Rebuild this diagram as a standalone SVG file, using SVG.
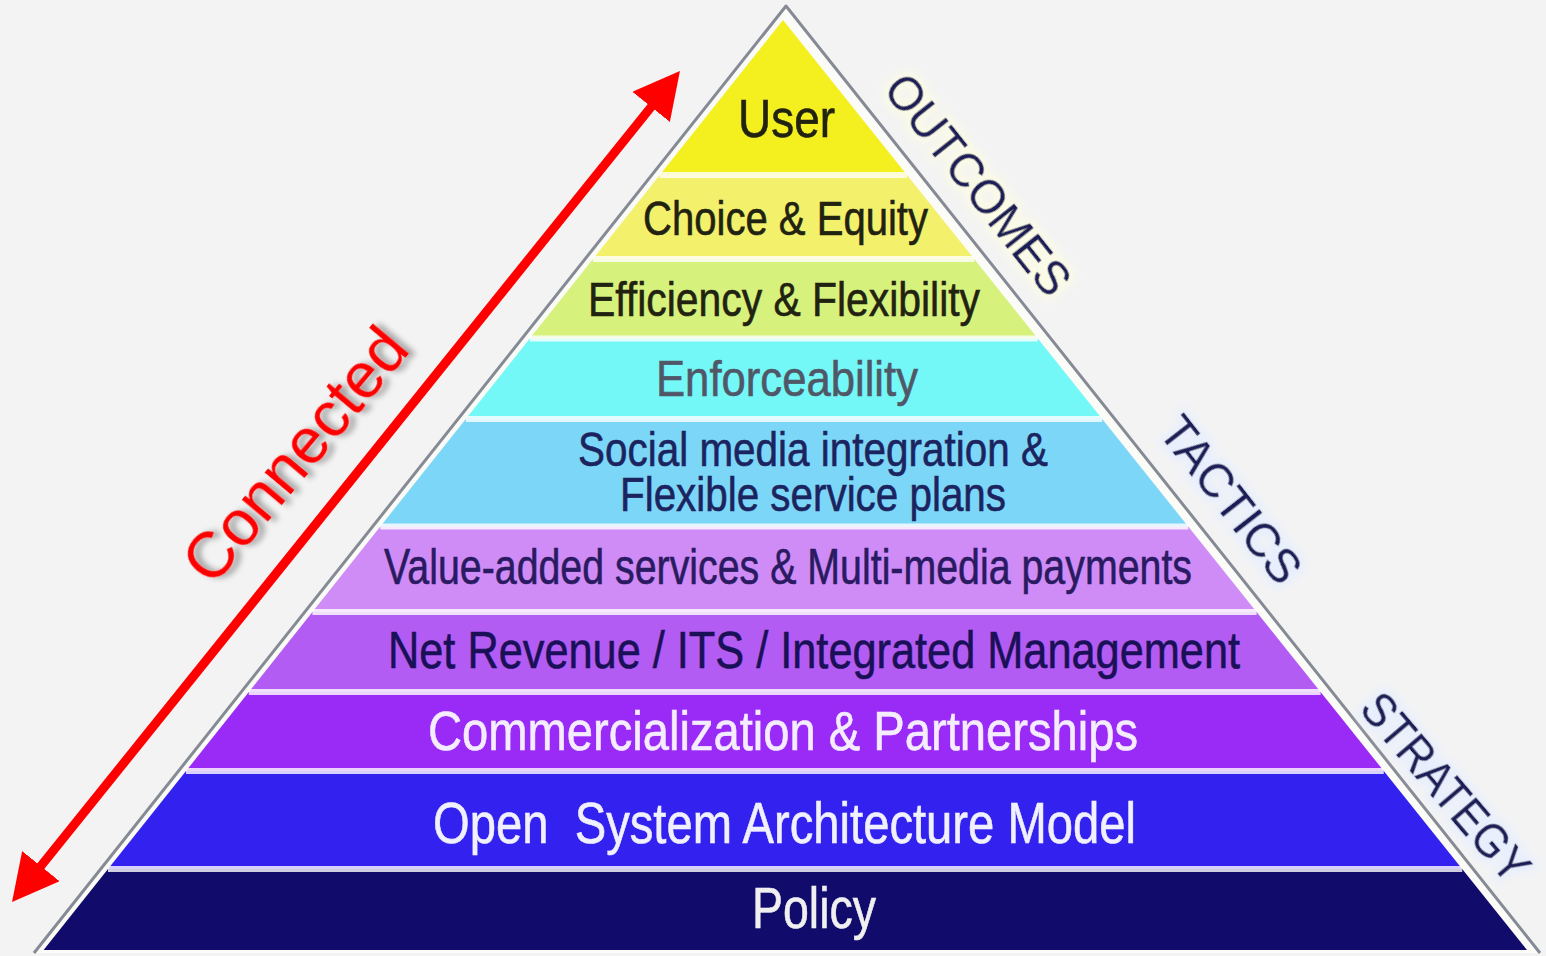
<svg xmlns="http://www.w3.org/2000/svg" width="1546" height="956" viewBox="0 0 1546 956">
  <defs>
    <style>
      .lbl { font-family: "Liberation Sans", Arial, sans-serif; text-anchor: middle; stroke-width: 0.6; }
      .side { font-family: "Liberation Sans", Arial, sans-serif; font-size: 48px; fill: #1a1d58; stroke: #1a1d58; stroke-width: 0.5; text-anchor: middle; }
      .gap { stroke: #ffffff; stroke-opacity: 0.8; stroke-width: 6; }
      .dark { fill: #222211; stroke: #222211; }
      .navy { fill: #1c2460; stroke: #1c2460; }
      .light { fill: #f4ecff; stroke: #f4ecff; }
    </style>
    <filter id="glow" x="-20%" y="-40%" width="140%" height="180%">
      <feMorphology in="SourceAlpha" operator="dilate" radius="4" result="d"/>
      <feGaussianBlur in="d" stdDeviation="4" result="b"/>
      <feFlood flood-color="#e6eeff" flood-opacity="0.95"/>
      <feComposite in2="b" operator="in" result="halo"/>
      <feMerge><feMergeNode in="halo"/><feMergeNode in="SourceGraphic"/></feMerge>
    </filter>
    <filter id="glowY" x="-20%" y="-40%" width="140%" height="180%">
      <feMorphology in="SourceAlpha" operator="dilate" radius="4" result="d"/>
      <feGaussianBlur in="d" stdDeviation="4" result="b"/>
      <feFlood flood-color="#fbfbe6" flood-opacity="0.95"/>
      <feComposite in2="b" operator="in" result="halo"/>
      <feMerge><feMergeNode in="halo"/><feMergeNode in="SourceGraphic"/></feMerge>
    </filter>
    <filter id="shadow" x="-20%" y="-20%" width="140%" height="140%">
      <feDropShadow dx="4" dy="5" stdDeviation="3" flood-color="#000000" flood-opacity="0.4"/>
    </filter>
    <marker id="head" viewBox="0 0 46 48" refX="6" refY="24" markerWidth="46" markerHeight="48" markerUnits="userSpaceOnUse" orient="auto-start-reverse">
      <path d="M0,0 L46,24 L0,48 Z" fill="#ff0000"/>
    </marker>
  </defs>

  <rect width="1546" height="956" fill="#f3f3f3"/>

  <!-- pyramid frame -->
  <g id="frame">
    <polygon points="786,6 34,953 1540,953" fill="#fbfbf7"/>
    <polyline points="34,953 786,6 1540,953" fill="none" stroke="#858a94" stroke-width="3" stroke-linejoin="round"/>
  </g>

  <g id="layer-user">
    <polygon points="783,20 907,175 659.8,175" fill="#f4ef1f"/>
    <text class="lbl dark" x="786.5" y="137" font-size="54" textLength="97" lengthAdjust="spacingAndGlyphs">User</text>
  </g>
  <g id="layer-choice">
    <polygon points="659.8,175 907,175 974.2,259 593,259" fill="#f3f06b"/>
    <text class="lbl dark" x="785.5" y="235" font-size="49" textLength="285" lengthAdjust="spacingAndGlyphs">Choice &amp; Equity</text>
  </g>
  <g id="layer-efficiency">
    <polygon points="593,259 974.2,259 1037.8,338.5 529.8,338.5" fill="#d6f17c"/>
    <text class="lbl dark" x="784" y="316" font-size="48" textLength="392" lengthAdjust="spacingAndGlyphs">Efficiency &amp; Flexibility</text>
  </g>
  <g id="layer-enforceability">
    <polygon points="529.8,338.5 1037.8,338.5 1102.2,419 465.8,419" fill="#74f7f7"/>
    <text class="lbl" fill="#505868" stroke="#505868" x="787" y="396" font-size="50" textLength="262" lengthAdjust="spacingAndGlyphs">Enforceability</text>
  </g>
  <g id="layer-social">
    <polygon points="465.8,419 1102.2,419 1188.2,526.5 380.3,526.5" fill="#7cd6f7"/>
    <text class="lbl navy" font-size="49"><tspan x="813" y="466" textLength="470" lengthAdjust="spacingAndGlyphs">Social media integration &amp;</tspan><tspan x="813" y="511" textLength="386" lengthAdjust="spacingAndGlyphs">Flexible service plans</tspan></text>
  </g>
  <g id="layer-value">
    <polygon points="380.3,526.5 1188.2,526.5 1256.6,612 312.4,612" fill="#cf8cf6"/>
    <text class="lbl" fill="#2a1a62" stroke="#2a1a62" x="788" y="584" font-size="50" textLength="808" lengthAdjust="spacingAndGlyphs">Value-added services &amp; Multi-media payments</text>
  </g>
  <g id="layer-net">
    <polygon points="312.4,612 1256.6,612 1320.6,692 248.8,692" fill="#b35cf4"/>
    <text class="lbl" fill="#1a1058" stroke="#1a1058" x="814" y="668" font-size="52" textLength="852" lengthAdjust="spacingAndGlyphs">Net Revenue / ITS / Integrated Management</text>
  </g>
  <g id="layer-commercial">
    <polygon points="248.8,692 1320.6,692 1383.8,771 186,771" fill="#9a2bf6"/>
    <text class="lbl light" x="783" y="750" font-size="55" textLength="710" lengthAdjust="spacingAndGlyphs">Commercialization &amp; Partnerships</text>
  </g>
  <g id="layer-open">
    <polygon points="186,771 1383.8,771 1462.2,869 108,869" fill="#3322ef"/>
    <text class="lbl" fill="#f0f0ff" stroke="#f0f0ff" x="784.5" y="843" font-size="58" textLength="703" lengthAdjust="spacingAndGlyphs" xml:space="preserve">Open  System Architecture Model</text>
  </g>
  <g id="layer-policy">
    <polygon points="108,869 1462.2,869 1527,950 43.6,950" fill="#110c6c"/>
    <text class="lbl" fill="#f0f0f0" stroke="#f0f0f0" x="814" y="928" font-size="57" textLength="124" lengthAdjust="spacingAndGlyphs">Policy</text>
  </g>

  <g id="gaps">
    <line class="gap" x1="659.8" y1="175" x2="907" y2="175"/>
    <line class="gap" x1="593" y1="259" x2="974.2" y2="259"/>
    <line class="gap" x1="529.8" y1="338.5" x2="1037.8" y2="338.5"/>
    <line class="gap" x1="465.8" y1="419" x2="1102.2" y2="419"/>
    <line class="gap" x1="380.3" y1="526.5" x2="1188.2" y2="526.5"/>
    <line class="gap" x1="312.4" y1="612" x2="1256.6" y2="612"/>
    <line class="gap" x1="248.8" y1="692" x2="1320.6" y2="692"/>
    <line class="gap" x1="186" y1="771" x2="1383.8" y2="771"/>
    <line class="gap" x1="108" y1="869" x2="1462.2" y2="869"/>
  </g>

  <g id="label-outcomes">
    <text class="side" filter="url(#glowY)" transform="translate(965,195) rotate(51.5)" textLength="268" lengthAdjust="spacingAndGlyphs">OUTCOMES</text>
  </g>
  <g id="label-tactics">
    <text class="side" filter="url(#glow)" transform="translate(1218,510) rotate(52)" textLength="198" lengthAdjust="spacingAndGlyphs">TACTICS</text>
  </g>
  <g id="label-strategy">
    <text class="side" filter="url(#glow)" transform="translate(1433,798) rotate(49.5)" textLength="232" lengthAdjust="spacingAndGlyphs">STRATEGY</text>
  </g>

  <g id="connectors">
    <line x1="37.1" y1="870.8" x2="654.9" y2="102.2" stroke="#ff0000" stroke-width="9" marker-start="url(#head)" marker-end="url(#head)"/>
  </g>

  <g id="label-connected">
    <text filter="url(#shadow)" transform="translate(312,469) rotate(-50)" font-family="'Liberation Sans', Arial, sans-serif" font-size="64" fill="#ff0000" text-anchor="middle" textLength="310" lengthAdjust="spacingAndGlyphs">Connected</text>
  </g>
</svg>
